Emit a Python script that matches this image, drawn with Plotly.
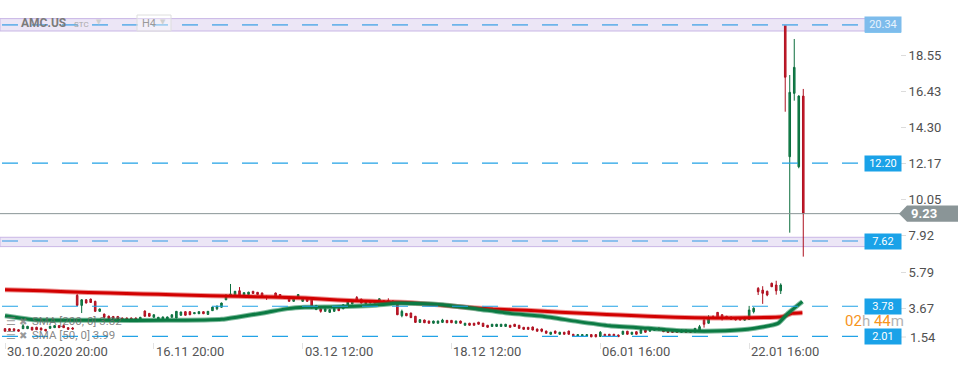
import plotly.graph_objects as go

# ---------------- data ----------------
opens = [2.46, 2.46, 2.45, 2.40, 2.46, 2.46, 2.54, 2.54, 2.50, 2.42,
         2.48, 2.52, 2.64, 2.64, 2.52, 2.50, 4.42, 3.83, 4.16, 4.20,
         4.07, 3.48, 3.32, 3.20, 3.18, 3.18, 3.09, 3.09, 3.09, 3.09,
         3.01, 3.50, 3.36, 3.13, 3.01, 3.03, 3.03, 3.13, 3.09, 3.25,
         3.46, 3.46, 3.34, 3.34, 3.46, 3.30, 3.52, 3.63, 3.72, 4.16,
         4.36, 4.42, 4.69, 4.42, 4.47, 4.66, 4.60, 4.56, 4.36, 4.35,
         4.56, 4.47, 4.30, 4.25, 4.07, 4.30, 4.07, 4.22, 4.16, 3.58,
         3.63, 3.48, 3.42, 3.48, 3.66, 3.63, 3.83, 3.92, 4.30, 4.20,
         3.92, 3.97, 4.11, 4.03, 4.11, 4.12, 4.09, 4.03, 3.22, 3.36,
         3.38, 3.19, 2.83, 2.97, 2.91, 2.78, 2.78, 2.83, 2.95, 2.95,
         2.78, 2.91, 2.66, 2.78, 2.78, 2.84, 2.78, 2.66, 2.59, 2.59,
         2.59, 2.59, 2.66, 2.72, 2.66, 2.54, 2.54, 2.56, 2.44, 2.44,
         2.32, 2.13, 2.32, 2.13, 2.25, 2.32, 2.13, 2.00, 2.00, 2.00,
         2.11, 2.11, 2.00, 2.13, 2.13, 2.13, 2.09, 2.13, 2.31, 2.13,
         2.28, 2.19, 2.38, 2.31, 2.36, 2.50, 2.38, 2.34, 2.34, 2.34,
         2.24, 2.38, 2.34, 2.26, 2.36, 2.96, 2.78, 3.17, 3.42, 3.28,
         3.19, 3.15, 3.09, 3.09, 2.96, 3.00, 3.46, 4.83, 4.73, 4.66,
         5.13, 5.03, 4.69, 20.34, 12.58, 16.31, 11.99, 16.15]
highs = [2.49, 2.48, 2.47, 2.43, 2.73, 2.62, 2.56, 2.57, 2.52, 2.44,
         2.62, 2.66, 2.66, 2.66, 2.54, 2.55, 4.50, 4.20, 4.20, 4.23,
         4.10, 3.64, 3.34, 3.22, 3.20, 3.20, 3.11, 3.11, 3.11, 3.11,
         3.15, 3.53, 3.38, 3.30, 3.15, 3.17, 3.17, 3.30, 3.50, 3.46,
         3.48, 3.48, 3.42, 3.48, 3.48, 3.50, 3.75, 3.81, 3.99, 4.50,
         5.09, 4.68, 4.91, 4.60, 4.63, 4.68, 4.62, 4.58, 4.40, 4.38,
         4.58, 4.49, 4.32, 4.27, 4.32, 4.49, 4.24, 4.24, 4.18, 3.85,
         3.65, 3.65, 3.60, 3.68, 3.68, 3.89, 4.05, 4.11, 4.38, 4.22,
         4.09, 4.09, 4.13, 4.24, 4.13, 4.25, 4.11, 4.05, 3.58, 3.38,
         3.40, 3.21, 3.01, 2.99, 2.93, 2.93, 2.93, 3.04, 2.97, 2.97,
         2.93, 2.93, 2.80, 2.80, 2.80, 2.86, 2.80, 2.68, 2.74, 2.74,
         2.74, 2.74, 2.68, 2.74, 2.68, 2.56, 2.56, 2.58, 2.46, 2.46,
         2.34, 2.27, 2.34, 2.27, 2.27, 2.34, 2.15, 2.13, 2.13, 2.13,
         2.13, 2.13, 2.32, 2.15, 2.15, 2.15, 2.11, 2.33, 2.33, 2.27,
         2.30, 2.42, 2.40, 2.46, 2.48, 2.52, 2.40, 2.36, 2.36, 2.36,
         2.40, 2.40, 2.36, 2.50, 2.68, 3.16, 3.25, 3.25, 3.44, 3.30,
         3.21, 3.17, 3.11, 3.11, 3.15, 3.80, 3.72, 4.91, 4.96, 4.70,
         5.17, 5.28, 5.13, 20.34, 17.39, 19.51, 16.20, 16.57]
lows = [2.29, 2.32, 2.33, 2.29, 2.44, 2.44, 2.36, 2.38, 2.36, 2.31,
        2.46, 2.50, 2.50, 2.50, 2.40, 2.40, 3.80, 3.38, 3.95, 3.98,
        3.45, 3.46, 3.11, 3.03, 3.03, 3.01, 2.93, 2.93, 2.93, 2.91,
        2.99, 3.17, 3.17, 3.11, 2.99, 3.01, 3.01, 3.11, 3.07, 3.23,
        3.23, 3.26, 3.32, 3.32, 3.32, 3.28, 3.50, 3.55, 3.70, 4.14,
        4.34, 4.40, 4.40, 4.40, 4.45, 4.51, 4.45, 4.36, 4.15, 4.28,
        4.28, 4.28, 4.23, 4.05, 4.05, 4.28, 4.05, 4.05, 3.66, 3.56,
        3.40, 3.46, 3.40, 3.46, 3.50, 3.61, 3.81, 3.90, 4.09, 3.95,
        3.90, 3.95, 3.95, 4.01, 3.95, 4.05, 3.95, 3.26, 3.13, 3.20,
        3.09, 2.81, 2.81, 2.79, 2.76, 2.76, 2.76, 2.81, 2.79, 2.79,
        2.76, 2.76, 2.64, 2.64, 2.64, 2.70, 2.57, 2.52, 2.57, 2.57,
        2.57, 2.57, 2.52, 2.57, 2.46, 2.40, 2.40, 2.36, 2.29, 2.25,
        2.17, 2.11, 2.17, 2.11, 2.11, 2.11, 1.99, 1.98, 1.98, 1.98,
        1.96, 1.96, 1.98, 1.99, 1.99, 1.99, 1.97, 2.11, 2.11, 2.11,
        2.11, 2.17, 2.23, 2.29, 2.34, 2.36, 2.26, 2.22, 2.22, 2.22,
        2.22, 2.22, 2.22, 2.24, 2.34, 2.52, 2.76, 3.03, 3.05, 2.94,
        3.03, 2.99, 2.95, 2.95, 2.94, 2.98, 3.36, 4.44, 3.92, 4.37,
        4.91, 4.46, 4.50, 15.23, 8.11, 15.88, 11.90, 6.70]
closes = [2.31, 2.34, 2.35, 2.31, 2.63, 2.60, 2.38, 2.40, 2.38, 2.33,
          2.60, 2.64, 2.52, 2.52, 2.42, 2.44, 3.83, 4.16, 3.97, 4.00,
          3.48, 3.62, 3.13, 3.05, 3.05, 3.03, 2.95, 2.95, 2.95, 2.93,
          3.13, 3.19, 3.19, 3.28, 3.13, 3.15, 3.15, 3.28, 3.48, 3.44,
          3.25, 3.28, 3.40, 3.46, 3.34, 3.48, 3.73, 3.79, 3.97, 4.36,
          4.50, 4.66, 4.42, 4.58, 4.61, 4.53, 4.47, 4.38, 4.30, 4.30,
          4.30, 4.30, 4.25, 4.07, 4.30, 4.47, 4.22, 4.07, 3.68, 3.83,
          3.48, 3.63, 3.58, 3.66, 3.52, 3.87, 4.03, 4.09, 4.11, 3.97,
          4.07, 4.07, 3.97, 4.22, 3.97, 4.10, 3.97, 3.28, 3.48, 3.22,
          3.11, 2.83, 2.99, 2.81, 2.78, 2.91, 2.91, 2.97, 2.81, 2.81,
          2.91, 2.78, 2.78, 2.66, 2.66, 2.72, 2.59, 2.54, 2.72, 2.72,
          2.72, 2.72, 2.54, 2.59, 2.48, 2.42, 2.42, 2.38, 2.31, 2.31,
          2.19, 2.25, 2.19, 2.25, 2.13, 2.13, 2.01, 2.11, 2.11, 2.11,
          1.98, 1.98, 2.25, 2.01, 2.01, 2.01, 1.99, 2.31, 2.13, 2.25,
          2.13, 2.40, 2.25, 2.44, 2.46, 2.38, 2.28, 2.24, 2.24, 2.24,
          2.38, 2.24, 2.24, 2.48, 2.58, 2.72, 3.07, 3.07, 3.07, 3.05,
          3.05, 3.01, 2.97, 2.97, 3.13, 3.56, 3.66, 4.63, 4.54, 4.44,
          4.93, 4.69, 5.03, 17.26, 16.37, 17.84, 16.15, 9.23]

sma200_idx = [0, 8.4, 13.7, 23.3, 30.6, 37.3, 45.5, 51.7, 59.2, 66.5, 73.8, 81.4,
              85.8, 90.9, 100.9, 108.2, 115.7, 123.1, 130.4, 136.4, 148.6, 157.4,
              164.7, 172.3, 174.5, 176.8]
sma200_val = [4.75, 4.69, 4.63, 4.56, 4.50, 4.46, 4.40, 4.37, 4.32, 4.27, 4.15, 4.07,
              4.03, 3.97, 3.75, 3.62, 3.54, 3.42, 3.34, 3.26, 3.13, 3.09,
              3.10, 3.16, 3.36, 3.40]
sma50_idx = [0, 3.3, 6.2, 21.1, 35.9, 44.3, 48.1, 51.7, 57.6, 62.7, 66.5, 73.8, 81.4,
             87.1, 90.9, 97.1, 104.7, 112.0, 119.3, 126.8, 134.1, 142.6, 150.1,
             157.4, 164.7, 171.4, 173.6, 176.8]
sma50_val = [3.22, 3.09, 2.99, 2.95, 2.95, 2.97, 3.01, 3.15, 3.40, 3.64, 3.72, 3.75, 3.83,
             3.95, 3.94, 3.87, 3.62, 3.36, 3.19, 2.89, 2.63, 2.48, 2.34,
             2.32, 2.42, 2.77, 3.36, 4.05]

x_tick_idx = [0, 33, 66, 99, 132, 165]
x_tick_labels = ["30.10.2020 20:00", "16.11 20:00", "03.12 12:00",
                 "18.12 12:00", "06.01 16:00", "22.01 16:00"]
y_tick_vals = [1.54, 3.67, 5.79, 7.92, 10.05, 12.17, 14.30, 16.43, 18.55]

level_lines = [20.34, 12.20, 7.62, 3.78, 2.01]
zones = [(19.98, 20.71), (7.29, 7.84)]
last_price = 9.23
legend_lines = ["SMA [200, 0] 3.82", "SMA [50, 0] 3.99"]

# ---------------- geometry helpers ----------------
PLOT_W, PLOT_H = 900, 342
def px_x(x):
    return x / PLOT_W
def px_y(y):
    return 1 - y / PLOT_H

FONT = "Roboto"
idx = list(range(len(opens)))

fig = go.Figure()
fig.add_trace(go.Candlestick(
    x=idx, open=opens, high=highs, low=lows, close=closes,
    increasing=dict(line=dict(color="#0c6e3e", width=1), fillcolor="#15894f"),
    decreasing=dict(line=dict(color="#ad1120", width=1), fillcolor="#d31b2d"),
    whiskerwidth=0, hoverinfo="skip", showlegend=False))

for xs, ys, core, halo in [(sma200_idx, sma200_val, "#d20000", "rgba(220,40,40,0.5)"),
                           (sma50_idx, sma50_val, "#0b7a43", "rgba(20,130,75,0.55)")]:
    fig.add_trace(go.Scatter(x=xs, y=ys, mode="lines", line=dict(color=halo, width=5, shape="spline", smoothing=0.5),
                             hoverinfo="skip", showlegend=False))
    fig.add_trace(go.Scatter(x=xs, y=ys, mode="lines", line=dict(color=core, width=3, shape="spline", smoothing=0.5),
                             hoverinfo="skip", showlegend=False))

shapes = []
for lo, hi in zones:
    shapes.append(dict(type="rect", xref="paper", yref="y", x0=0, x1=px_x(866), y0=lo, y1=hi,
                       fillcolor="#ece6f6", line=dict(color="#c9b7e6", width=1), layer="below"))
for lv in level_lines:
    in_zone = any(lo <= lv <= hi for lo, hi in zones)
    shapes.append(dict(type="line", xref="paper", yref="y", x0=px_x(2), x1=px_x(858), y0=lv, y1=lv,
                       line=dict(color="#6db4ea" if in_zone else "#22a2e6", width=1.6 if in_zone else 1.2,
                                 dash="16px,14px"), layer="above"))
shapes.append(dict(type="line", xref="paper", yref="y", x0=0, x1=1, y0=last_price, y1=last_price,
                   line=dict(color="#8a9597", width=1), layer="above"))
# price tag for last price
h = 0.48
shapes.append(dict(type="path", xref="paper", yref="y",
                   path=(f"M {px_x(899)},{last_price} L {px_x(907)},{last_price + h} "
                         f"L {px_x(958)},{last_price + h} L {px_x(958)},{last_price - h} "
                         f"L {px_x(907)},{last_price - h} Z"),
                   fillcolor="#8a9597", line=dict(width=0)))
# underline of the top level tag
shapes.append(dict(type="rect", xref="paper", yref="y", x0=px_x(865), x1=px_x(901),
                   y0=level_lines[0] - 0.45, y1=level_lines[0] - 0.36, fillcolor="#1a9fe6", line=dict(width=0)))
# H4 selector box
shapes.append(dict(type="rect", xref="paper", yref="paper", x0=px_x(137), x1=px_x(171),
                   y0=px_y(31), y1=px_y(15), line=dict(color="#dedede", width=1),
                   fillcolor="rgba(255,255,255,0.35)"))
# 1.54 tick mark (label pushed inside)
shapes.append(dict(type="line", xref="paper", yref="paper", x0=px_x(901), x1=px_x(906),
                   y0=px_y(337), y1=px_y(337), line=dict(color="#dcdcdc", width=1)))

ann = []
for t, lab in zip(x_tick_idx, x_tick_labels):
    ann.append(dict(x=t, xref="x", y=px_y(351), yref="paper", text=lab, showarrow=False,
                    xanchor="left", yanchor="middle", font=dict(family=FONT, size=13, color="#555555")))
ann.append(dict(x=px_x(908), xref="paper", y=px_y(337), yref="paper", text="1.54", showarrow=False,
                xanchor="left", yanchor="middle", font=dict(family=FONT, size=13, color="#505050")))
for k, lv in enumerate(level_lines):
    top = k == 0
    ann.append(dict(x=px_x(883), xref="paper", y=lv, yref="y", text=f"{lv:.2f}", showarrow=False,
                    xanchor="center", yanchor="middle", width=32, height=11, borderpad=2,
                    bgcolor="#7dbcec" if top else "#1aa2e8",
                    font=dict(family=FONT, size=11, color="#e8f3fc" if top else "#ffffff")))
ann.append(dict(x=px_x(909), xref="paper", y=last_price, yref="y", text=f"<b>{last_price:.2f}</b>",
                showarrow=False, xanchor="left", yanchor="middle",
                font=dict(family=FONT, size=13, color="#ffffff")))
# header
ann.append(dict(x=px_x(19), xref="paper", y=px_y(23), yref="paper", text="<b>AMC.US</b>", showarrow=False,
                xanchor="left", yanchor="middle", font=dict(family=FONT, size=12, color="#7b7b7b")))
ann.append(dict(x=px_x(72), xref="paper", y=px_y(24), yref="paper", text="STC", showarrow=False,
                xanchor="left", yanchor="middle", font=dict(family=FONT, size=8, color="#a9a9a9")))
ann.append(dict(x=px_x(94), xref="paper", y=px_y(22), yref="paper", text="▼", showarrow=False,
                xanchor="left", yanchor="middle", font=dict(family="DejaVu Sans", size=7, color="#cfcfcf")))
ann.append(dict(x=px_x(140), xref="paper", y=px_y(23), yref="paper", text="H4", showarrow=False,
                xanchor="left", yanchor="middle", font=dict(family=FONT, size=11, color="#9a9a9a")))
ann.append(dict(x=px_x(158), xref="paper", y=px_y(22), yref="paper", text="▼", showarrow=False,
                xanchor="left", yanchor="middle", font=dict(family="DejaVu Sans", size=7, color="#cfcfcf")))
# indicator legend
for row, txt in enumerate(legend_lines):
    yy = 321 + 14 * row
    ann.append(dict(x=px_x(4), xref="paper", y=px_y(yy), yref="paper", text="☰", showarrow=False,
                    xanchor="left", yanchor="middle", font=dict(family="DejaVu Sans", size=11, color="rgba(120,120,120,0.75)")))
    ann.append(dict(x=px_x(17), xref="paper", y=px_y(yy), yref="paper", text="✖", showarrow=False,
                    xanchor="left", yanchor="middle", font=dict(family="DejaVu Sans", size=10, color="rgba(120,120,120,0.75)")))
    ann.append(dict(x=px_x(30), xref="paper", y=px_y(yy), yref="paper", text=txt, showarrow=False,
                    xanchor="left", yanchor="middle", font=dict(family=FONT, size=11.5, color="rgba(105,105,105,0.8)")))
# countdown
ann.append(dict(x=px_x(843), xref="paper", y=px_y(321), yref="paper",
                text=('<span style="color:#f7941d">02</span><span style="color:#b3b3b3">h</span> '
                      '<span style="color:#f7941d">44</span><span style="color:#b3b3b3">m</span>'),
                showarrow=False, xanchor="left", yanchor="middle", font=dict(family=FONT, size=15)))

x0 = -5 / 4.51
fig.update_layout(
    width=970, height=368, margin=dict(l=0, r=70, t=0, b=26),
    paper_bgcolor="white", plot_bgcolor="white", showlegend=False, boxgap=0.5,
    shapes=shapes, annotations=ann,
    xaxis=dict(range=[x0, x0 + PLOT_W / 4.51], rangeslider=dict(visible=False), showgrid=False,
               zeroline=False, showline=False, tickvals=x_tick_idx, showticklabels=False,
               ticks="outside", ticklen=6, tickcolor="#e2e2e2"),
    yaxis=dict(side="right", range=[21.805 - PLOT_H / 16.99, 21.805], tickvals=y_tick_vals,
               ticktext=[f"{v:.2f}" for v in y_tick_vals], ticks="outside", ticklen=5,
               tickcolor="#dcdcdc", showgrid=False, zeroline=False, showline=False,
               tickfont=dict(family=FONT, size=13, color="#505050")),
    hovermode=False,
)
fig.write_html("out.html", config={"displayModeBar": False},
               post_script="document.body.style.margin='0';")
